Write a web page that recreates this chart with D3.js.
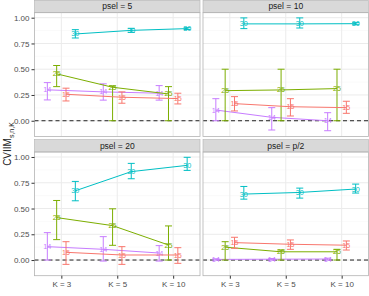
<!DOCTYPE html>
<html>
<head>
<meta charset="utf-8">
<script src="https://cdn.jsdelivr.net/npm/d3@7"></script>
<style>
  body { margin: 0; background: #fff; }
  svg text { font-family: "Liberation Sans", Arial, sans-serif; }
</style>
</head>
<body>
<div id="canvas"></div>
<script>
"use strict"

/* data */
const panels = ["psel = 5", "psel = 10", "psel = 20", "psel = p/2"];
const kLabels = ["K = 3", "K = 5", "K = 10"];
const groups = ["14", "25", "15", "30"];
const groupColors = ["#C77CFF", "#7CAE00", "#F8766D", "#00BFC4"];
const yTicks = [0, 0.25, 0.5, 0.75, 1];

// one row per panel, one value per K
const est14 = [[0.30, 0.28, 0.267], [0.104, 0.033, 0.0], [0.13, 0.104, 0.068], [0.006, 0.008, 0.01]];
const lo14 = [[0.202, 0.2, 0.2], [0.0, -0.09, -0.097], [0.0, -0.01, -0.01], [0.0, 0.0, 0.0]];
const hi14 = [[0.37, 0.358, 0.341], [0.214, 0.127, 0.078], [0.266, 0.227, 0.14], [0.012, 0.015, 0.018]];

const est25 = [[0.455, 0.325, 0.26], [0.292, 0.299, 0.312], [0.412, 0.334, 0.146], [0.125, 0.08, 0.08]];
const lo25 = [[0.331, 0, 0], [0, 0, 0], [0.198, 0.143, 0], [0, 0, 0]];
const hi25 = [[0.536, 0.338, 0.331], [0.5, 0.5, 0.5], [0.578, 0.497, 0.331], [0.178, 0.097, 0.104]];

const est15 = [[0.257, 0.228, 0.215], [0.166, 0.136, 0.127], [0.075, 0.049, 0.049], [0.169, 0.153, 0.144]];
const lo15 = [[0.192, 0.17, 0.163], [0.095, 0.046, 0.072], [-0.042, -0.042, -0.032], [0.114, 0.104, 0.097]];
const hi15 = [[0.316, 0.28, 0.267], [0.234, 0.214, 0.189], [0.178, 0.13, 0.12], [0.221, 0.195, 0.185]];

const est30 = [[0.842, 0.877, 0.894], [0.94, 0.94, 0.942], [0.672, 0.858, 0.919], [0.64, 0.656, 0.689]];
const lo30 = [[0.803, 0.858, 0.885], [0.894, 0.9, 0.932], [0.575, 0.789, 0.87], [0.591, 0.601, 0.65]];
const hi30 = [[0.884, 0.897, 0.903], [0.998, 0.998, 0.952], [0.763, 0.938, 0.997], [0.714, 0.698, 0.737]];

const estAll = [est14, est25, est15, est30];
const loAll = [lo14, lo25, lo15, lo30];
const hiAll = [hi14, hi25, hi15, hi30];

/* set up the drawing canvas */
let drawing = d3.select("#canvas")
    .append("svg")
    .attr("width", 369)
    .attr("height", 296);

drawing.append("rect")
    .attr("width", 369)
    .attr("height", 296)
    .attr("fill", "white");

/* panel geometry */
const panelW = 165.5;
const panelH = 123.7;
const stripH = 12.4;
const colX = [34.5, 203];
const rowY = [12.7, 152];

const y0 = d3.scaleLinear().domain([-0.152, 1.0485]);
const groupOffset = d3.scalePoint().domain(groups).range([-14, 14]);

panels.forEach(function (name, p) {
    let left = colX[p % 2];
    let top = rowY[Math.floor(p / 2)];

    let x = d3.scalePoint().domain(kLabels).range([left, left + panelW]).padding(0.48);
    let y = y0.copy().range([top + panelH, top]);

    let g = drawing.append("g");

    /* strip */
    g.append("rect")
        .attr("x", left)
        .attr("y", top - stripH)
        .attr("width", panelW)
        .attr("height", stripH)
        .attr("fill", "#D9D9D9")
        .attr("stroke", "#B3B3B3")
        .attr("stroke-width", 0.6);
    g.append("text")
        .attr("x", left + panelW / 2)
        .attr("y", top - stripH / 2)
        .attr("dy", "0.35em")
        .attr("text-anchor", "middle")
        .attr("font-size", 8.5)
        .attr("fill", "#1A1A1A")
        .text(name);

    /* grid */
    let minor = [0.125, 0.375, 0.625, 0.875];
    g.selectAll(".minor").data(minor).enter().append("line")
        .attr("x1", left).attr("x2", left + panelW)
        .attr("y1", d => y(d)).attr("y2", d => y(d))
        .attr("stroke", "#F5F5F5").attr("stroke-width", 0.5);
    g.selectAll(".major").data(yTicks).enter().append("line")
        .attr("x1", left).attr("x2", left + panelW)
        .attr("y1", d => y(d)).attr("y2", d => y(d))
        .attr("stroke", "#EBEBEB").attr("stroke-width", 1);
    g.selectAll(".vgrid").data(kLabels).enter().append("line")
        .attr("x1", d => x(d)).attr("x2", d => x(d))
        .attr("y1", top).attr("y2", top + panelH)
        .attr("stroke", "#EBEBEB").attr("stroke-width", 1);

    /* zero reference */
    g.append("line")
        .attr("x1", left).attr("x2", left + panelW)
        .attr("y1", y(0)).attr("y2", y(0))
        .attr("stroke", "#222")
        .attr("stroke-width", 1)
        .attr("stroke-dasharray", "4,3");

    /* series */
    groups.forEach(function (grp, s) {
        let col = groupColors[s];
        let pts = kLabels.map(function (k, i) {
            return {
                x: x(k) + groupOffset(grp),
                est: estAll[s][p][i],
                lo: loAll[s][p][i],
                hi: hiAll[s][p][i]
            };
        });

        g.append("path")
            .datum(pts)
            .attr("d", d3.line().x(d => d.x).y(d => y(d.est)))
            .attr("fill", "none")
            .attr("stroke", col)
            .attr("stroke-width", 1);

        let bars = g.selectAll(null).data(pts).enter().append("g")
            .attr("stroke", col).attr("stroke-width", 1);
        bars.append("line")
            .attr("x1", d => d.x).attr("x2", d => d.x)
            .attr("y1", d => y(d.lo)).attr("y2", d => y(d.hi));
        bars.append("line")
            .attr("x1", d => d.x - 3.5).attr("x2", d => d.x + 3.5)
            .attr("y1", d => y(d.lo)).attr("y2", d => y(d.lo));
        bars.append("line")
            .attr("x1", d => d.x - 3.5).attr("x2", d => d.x + 3.5)
            .attr("y1", d => y(d.hi)).attr("y2", d => y(d.hi));

        g.selectAll(null).data(pts).enter().append("text")
            .attr("x", d => d.x)
            .attr("y", d => y(d.est))
            .attr("dy", "0.35em")
            .attr("text-anchor", "middle")
            .attr("font-size", 7.2)
            .attr("fill", col)
            .text(grp);
    });

    /* panel border */
    g.append("rect")
        .attr("x", left).attr("y", top)
        .attr("width", panelW).attr("height", panelH)
        .attr("fill", "none")
        .attr("stroke", "#B3B3B3")
        .attr("stroke-width", 0.8);

    /* axes on the outer panels only */
    if (p % 2 === 0) {
        let ax = g.append("g")
            .attr("transform", "translate(" + left + ",0)")
            .call(d3.axisLeft(y).tickValues(yTicks).tickFormat(d3.format(".2f")).tickSize(3).tickPadding(2));
        ax.select(".domain").remove();
        ax.selectAll("line").attr("stroke", "#333");
        ax.selectAll("text").attr("font-size", 8).attr("fill", "#4D4D4D")
            .style("font-family", "Liberation Sans, Arial, sans-serif");
    }
    if (p >= 2) {
        let ax = g.append("g")
            .attr("transform", "translate(0," + (top + panelH) + ")")
            .call(d3.axisBottom(x).tickSize(3).tickPadding(3));
        ax.select(".domain").remove();
        ax.selectAll("line").attr("stroke", "#333");
        ax.selectAll("text").attr("font-size", 8).attr("fill", "#4D4D4D")
            .style("font-family", "Liberation Sans, Arial, sans-serif");
    }
});

/* y axis title with subscript */
let title = drawing.append("text")
    .attr("transform", "translate(11,144) rotate(-90)")
    .attr("text-anchor", "middle")
    .attr("font-size", 10)
    .attr("fill", "#1A1A1A");
title.append("tspan").text("CVIIM");
title.append("tspan")
    .attr("font-size", 7)
    .attr("dy", 2.5)
    .text("s,n,K");
</script>
</body>
</html>
